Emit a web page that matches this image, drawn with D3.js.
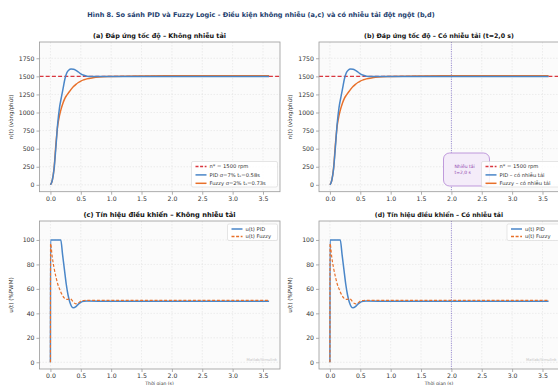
<!DOCTYPE html>
<html>
<head>
<meta charset="utf-8">
<script src="https://cdn.jsdelivr.net/npm/d3@7"></script>
<style>
  body { margin: 0; background: #fff; }
  svg { display: block; font-family: "DejaVu Sans", sans-serif; }
</style>
</head>
<body>
<div id="chart"></div>
<script>
// time samples (s) for the speed response
const tSpeed = [0, 0.03, 0.06, 0.09, 0.12, 0.15, 0.18, 0.21, 0.24, 0.27, 0.30, 0.34, 0.38, 0.42, 0.46, 0.50, 0.55, 0.60, 0.70, 0.80, 1.0, 1.2, 1.5, 2.0, 2.5, 3.0, 3.6];
const nPID   = [0, 60, 220, 520, 850, 1070, 1210, 1340, 1470, 1550, 1585, 1600, 1598, 1583, 1560, 1535, 1515, 1503, 1497, 1497, 1497, 1497, 1497, 1497, 1497, 1497, 1497];
const nFuzzy = [0, 60, 230, 560, 820, 960, 1060, 1140, 1200, 1240, 1275, 1320, 1360, 1390, 1415, 1435, 1452, 1465, 1480, 1490, 1498, 1503, 1506, 1508, 1509, 1510, 1510];
// with load disturbance at t = 2.0 s (no visible change in speed)
const nPIDLoad   = nPID.slice();
const nFuzzyLoad = nFuzzy.slice();
const nRef = 1500;

// time samples (s) for the control signal
const tCtrl  = [0, 0.002, 0.03, 0.06, 0.09, 0.12, 0.15, 0.17, 0.20, 0.23, 0.26, 0.29, 0.32, 0.35, 0.38, 0.42, 0.46, 0.50, 0.55, 0.60, 1.0, 2.0, 3.0, 3.6];
const uPID   = [0, 100, 100, 100, 100, 100, 100, 100, 88, 76, 64, 55, 49, 45.5, 44.5, 45.5, 47.5, 49, 49.8, 50, 49.8, 49.8, 49.8, 49.8];
const uFuzzy = [0, 97, 86, 77, 70, 64, 60, 57.5, 54.5, 52.5, 51.5, 51.5, 52, 51, 49, 47.8, 48.5, 50, 50.5, 50.6, 50.6, 50.6, 50.6, 50.6];
const uPIDLoad   = uPID.slice();
const uFuzzyLoad = uFuzzy.slice();

const xTicks = [0, 0.5, 1.0, 1.5, 2.0, 2.5, 3.0, 3.5];
const nTicks = [0, 250, 500, 750, 1000, 1250, 1500, 1750];
const uTicks = [0, 20, 40, 60, 80, 100];
const tDisturb = 2.0;

const W = 558, H = 385;
const cPID = "#4a86c8", cFuzzy = "#e8702a", cRef = "#d9363e", cDist = "#7b68c8";

const svg = d3.select("#chart").append("svg")
  .attr("width", W).attr("height", H);

// shrink/grow a text to a measured width
function fitText(sel, target, base) {
  sel.style("font-size", base + "px");
  const w = sel.node().getComputedTextLength();
  sel.style("font-size", (base * target / w).toFixed(2) + "px");
}

const title = svg.append("text")
  .attr("x", 261).attr("y", 16.5)
  .attr("text-anchor", "middle")
  .attr("font-weight", "bold")
  .attr("fill", "#23406e")
  .text("Hình 8. So sánh PID và Fuzzy Logic - Điều kiện không nhiễu (a,c) và có nhiễu tải đột ngột (b,d)");
fitText(title, 348, 7.5);

function panel(cfg) {
  const x = d3.scaleLinear().domain([-0.18, 3.78]).range([cfg.left, cfg.left + 240.5]);
  const y = d3.scaleLinear().domain(cfg.yDomain).range([cfg.bottom, cfg.top]);
  const g = svg.append("g");

  g.append("rect")
    .attr("x", x.range()[0]).attr("y", cfg.top)
    .attr("width", 240.5).attr("height", cfg.bottom - cfg.top)
    .attr("fill", "#fbfbfb");

  // grid
  g.append("g").selectAll("line").data(xTicks).join("line")
    .attr("x1", d => x(d)).attr("x2", d => x(d))
    .attr("y1", cfg.top).attr("y2", cfg.bottom)
    .attr("stroke", "#dcdcdc").attr("stroke-width", 0.5).attr("stroke-dasharray", "1.5,1.5");
  g.append("g").selectAll("line").data(cfg.yTicks).join("line")
    .attr("x1", x.range()[0]).attr("x2", x.range()[1])
    .attr("y1", d => y(d)).attr("y2", d => y(d))
    .attr("stroke", "#dcdcdc").attr("stroke-width", 0.5).attr("stroke-dasharray", "1.5,1.5");

  const clip = "clip-" + cfg.id;
  g.append("clipPath").attr("id", clip).append("rect")
    .attr("x", x.range()[0]).attr("y", cfg.top)
    .attr("width", 240.5).attr("height", cfg.bottom - cfg.top);
  const plot = g.append("g").attr("clip-path", `url(#${clip})`);

  if (cfg.disturb) {
    plot.append("line")
      .attr("x1", x(tDisturb)).attr("x2", x(tDisturb))
      .attr("y1", cfg.top).attr("y2", cfg.bottom)
      .attr("stroke", cDist).attr("stroke-width", 0.8).attr("stroke-dasharray", "1,1.3");
  }

  if (cfg.ref !== undefined) {
    plot.append("line")
      .attr("x1", x.range()[0]).attr("x2", x.range()[1])
      .attr("y1", y(cfg.ref)).attr("y2", y(cfg.ref))
      .attr("stroke", cRef).attr("stroke-width", 1.3).attr("stroke-dasharray", "4,2.2");
  }

  const line = d3.line().x(d => x(d[0])).y(d => y(d[1])).curve(d3.curveMonotoneX);
  cfg.series.forEach(s => {
    plot.append("path")
      .datum(cfg.t.map((t, i) => [t, s.values[i]]))
      .attr("d", line)
      .attr("fill", "none")
      .attr("stroke", s.color)
      .attr("stroke-width", s.width || 1.5)
      .attr("stroke-dasharray", s.dash || null)
      .attr("stroke-linejoin", "round");
  });

  // axes
  const ax = g.append("g").attr("transform", `translate(0,${cfg.bottom})`)
    .call(d3.axisBottom(x).tickValues(xTicks).tickFormat(d3.format(".1f")).tickSize(3).tickPadding(1.5));
  const ay = g.append("g").attr("transform", `translate(${x.range()[0]},0)`)
    .call(d3.axisLeft(y).tickValues(cfg.yTicks).tickFormat(d3.format("d")).tickSize(3).tickPadding(2));
  [ax, ay].forEach(a => {
    a.select(".domain").remove();
    a.selectAll("line").attr("stroke", "#777").attr("stroke-width", 0.6);
    a.selectAll("text").attr("fill", "#333").style("font-size", "6.2px").style("font-family", "DejaVu Sans");
  });

  g.append("rect")
    .attr("x", x.range()[0]).attr("y", cfg.top)
    .attr("width", 240.5).attr("height", cfg.bottom - cfg.top)
    .attr("fill", "none").attr("stroke", "#999").attr("stroke-width", 0.8);

  const st = g.append("text")
    .attr("x", cfg.left + 120).attr("y", cfg.top - 4)
    .attr("text-anchor", "middle").attr("font-weight", "bold").attr("fill", "#111")
    .text(cfg.title);
  fitText(st, cfg.titleW, 6.2);

  g.append("text")
    .attr("transform", `translate(${cfg.left - 27},${(cfg.top + cfg.bottom) / 2}) rotate(-90)`)
    .attr("text-anchor", "middle").attr("fill", "#333").style("font-size", "5.6px")
    .text(cfg.ylabel);

  if (cfg.xlabel) {
    g.append("text")
      .attr("x", cfg.left + 120).attr("y", 384.6)
      .attr("text-anchor", "middle").attr("fill", "#333").style("font-size", "4.6px")
      .text(cfg.xlabel);
  }

  if (cfg.annot) {
    const a = cfg.annot;
    g.append("rect")
      .attr("x", a.x).attr("y", a.y).attr("width", a.w).attr("height", a.h)
      .attr("rx", 6).attr("fill", "#f4ecf9").attr("stroke", "#a774cf").attr("stroke-width", 0.7);
    a.lines.forEach((l, i) => {
      g.append("text").attr("x", a.x + 11).attr("y", a.y + 15 + i * 6)
        .attr("fill", "#8e44ad").style("font-size", "4.5px").text(l);
    });
  }

  // legend
  const L = cfg.legend;
  const lg = g.append("g");
  lg.append("rect").attr("x", L.x).attr("y", L.y).attr("width", L.w).attr("height", L.h)
    .attr("rx", 1.5).attr("fill", "#fff").attr("fill-opacity", 0.85)
    .attr("stroke", "#ccc").attr("stroke-width", 0.5);
  L.items.forEach((it, i) => {
    const yy = L.y + 5 + i * L.step;
    lg.append("line").attr("x1", L.x + 4).attr("x2", L.x + 15).attr("y1", yy).attr("y2", yy)
      .attr("stroke", it.color).attr("stroke-width", it.width || 1.5)
      .attr("stroke-dasharray", it.dash || null);
    lg.append("text").attr("x", L.x + 18).attr("y", yy + 1.8)
      .attr("fill", "#333").style("font-size", "5.2px").text(it.label);
  });

  if (cfg.watermark) {
    g.append("text").attr("x", x.range()[1] - 3).attr("y", cfg.bottom - 8)
      .attr("text-anchor", "end").attr("fill", "#c4c4c4").style("font-size", "3.8px")
      .text("Matlab/Simulink");
  }
}

const speedLegendA = [
  { label: "n* = 1500 rpm", color: cRef, dash: "3,1.6", width: 1.3 },
  { label: "PID  σ=7%  tₛ=0.58s", color: cPID },
  { label: "Fuzzy  σ=2%  tₛ=0.73s", color: cFuzzy }
];
const speedLegendB = [
  { label: "n* = 1500 rpm", color: cRef, dash: "3,1.6", width: 1.3 },
  { label: "PID – có nhiễu tải", color: cPID },
  { label: "Fuzzy – có nhiễu tải", color: cFuzzy }
];
const ctrlLegend = [
  { label: "u(t) PID", color: cPID },
  { label: "u(t) Fuzzy", color: cFuzzy, dash: "3,1.6" }
];

panel({
  id: "a", left: 39.5, top: 42, bottom: 191.7, yDomain: [-95, 1975], yTicks: nTicks,
  t: tSpeed, ref: nRef,
  series: [{ values: nFuzzy, color: cFuzzy }, { values: nPID, color: cPID }],
  title: "(a) Đáp ứng tốc độ – Không nhiễu tải", titleW: 133,
  ylabel: "n(t)  (vòng/phút)",
  legend: { x: 191.5, y: 161.5, w: 86, h: 25.5, step: 8.4, items: speedLegendA }
});

panel({
  id: "b", left: 319, top: 42, bottom: 191.7, yDomain: [-95, 1975], yTicks: nTicks,
  t: tSpeed, ref: nRef, disturb: true,
  series: [{ values: nFuzzyLoad, color: cFuzzy }, { values: nPIDLoad, color: cPID }],
  title: "(b) Đáp ứng tốc độ – Có nhiễu tải (t=2,0 s)", titleW: 150,
  ylabel: "n(t)  (vòng/phút)",
  annot: { x: 443.5, y: 153, w: 46, h: 33, lines: ["Nhiễu tải", "t=2,0 s"] },
  legend: { x: 481.5, y: 161.5, w: 78, h: 25.5, step: 8.4, items: speedLegendB }
});

panel({
  id: "c", left: 39.5, top: 221, bottom: 369, yDomain: [-5.5, 115.5], yTicks: uTicks,
  t: tCtrl,
  series: [{ values: uPID, color: cPID, width: 1.5 }, { values: uFuzzy, color: cFuzzy, dash: "3,1.8", width: 1.2 }],
  title: "(c) Tín hiệu điều khiển – Không nhiễu tải", titleW: 152,
  ylabel: "u(t)  (%PWM)", xlabel: "Thời gian (s)", watermark: true,
  legend: { x: 227.5, y: 224, w: 50, h: 16.5, step: 7.4, items: ctrlLegend }
});

panel({
  id: "d", left: 319, top: 221, bottom: 369, yDomain: [-5.5, 115.5], yTicks: uTicks,
  t: tCtrl, disturb: true,
  series: [{ values: uPIDLoad, color: cPID, width: 1.5 }, { values: uFuzzyLoad, color: cFuzzy, dash: "3,1.8", width: 1.2 }],
  title: "(d) Tín hiệu điều khiển – Có nhiễu tải", titleW: 128,
  ylabel: "u(t)  (%PWM)", xlabel: "Thời gian (s)", watermark: true,
  legend: { x: 507, y: 224, w: 52, h: 16.5, step: 7.4, items: ctrlLegend }
});
</script>
</body>
</html>
